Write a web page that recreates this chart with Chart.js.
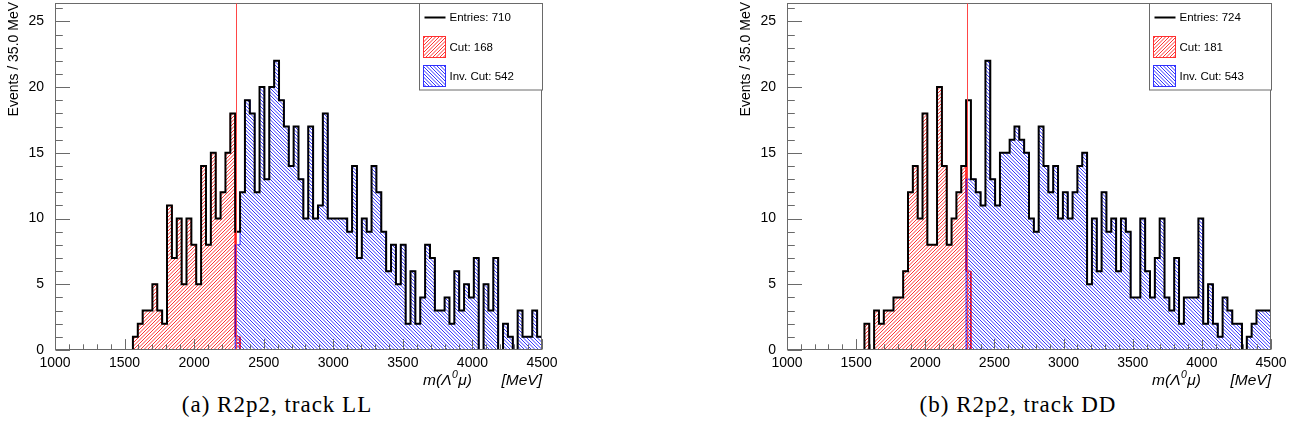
<!DOCTYPE html>
<html>
<head>
<meta charset="utf-8">
<script src="https://cdn.jsdelivr.net/npm/chart.js@4.4.0/dist/chart.umd.min.js"></script>
<style>
  html, body { margin: 0; padding: 0; background: #fff; }
  body { width: 1302px; height: 438px; position: relative; overflow: hidden; }
  canvas { position: absolute; top: 0; }
  #cLL { left: 0; }
  #cDD { left: 730px; }
  .caption {
    position: absolute; top: 392px; line-height: 26px;
    font-family: "Liberation Serif", "Times New Roman", serif; font-size: 23px;
    letter-spacing: 1px; color: #000; white-space: nowrap;
    transform: translateX(-50%);
  }
</style>
</head>
<body>
<canvas id="cLL" width="560" height="390"></canvas>
<canvas id="cDD" width="572" height="390"></canvas>
<div class="caption" style="left:277px">(a) R2p2, track LL</div>
<div class="caption" style="left:1018px">(b) R2p2, track DD</div>

<script>
// Binning of m(Λ0 μ): 100 bins of 35 MeV from 1000 to 4500 MeV
const binStart = 1000;
const binWidth = 35;
const nBins = 100;
const cutValue = 2300;          // MeV, position of the selection cut
const cutFirstBin = 16;         // first filled bin of the "Cut" histograms (1560 MeV)
const invFirstBin = 37;         // first filled bin of the "Inv. Cut" histograms (2295 MeV)

const xTicks = [1000, 1500, 2000, 2500, 3000, 3500, 4000, 4500];
const yTicks = [0, 5, 10, 15, 20, 25];
const yMax = 26.4;

// track LL: events per bin
const llCut = [1, 2, 3, 3, 5, 3, 2, 11, 7, 10, 5, 10, 8, 5, 14, 8, 15, 10, 12, 15, 18, 1];
const llInv = [8, 12, 19, 18, 12, 20, 13, 20, 22, 19, 17, 14, 17, 13, 10, 17, 10, 11, 18, 10,
               10, 10, 10, 9, 14, 7, 10, 9, 14, 12, 9, 6, 8, 5, 8, 2, 6, 2, 4, 8,
               7, 3, 3, 4, 2, 6, 3, 5, 4, 7, 0, 5, 3, 7, 0, 2, 1, 0, 3, 1,
               1, 3, 1];
const llCounts = { entries: 710, cut: 168, inv: 542 };

// track DD: events per bin
const ddCut = [2, 0, 3, 2, 3, 3, 4, 4, 6, 12, 14, 10, 18, 8, 8, 20, 14, 8, 10, 12, 14, 6];
const ddInv = [13, 13, 12, 11, 22, 13, 11, 15, 15, 16, 17, 16, 15, 10, 9, 17, 14, 12, 14, 10,
               12, 10, 12, 14, 15, 5, 10, 6, 12, 9, 10, 6, 10, 9, 4, 4, 10, 6, 4, 7,
               10, 4, 3, 7, 2, 4, 4, 4, 10, 2, 5, 2, 1, 4, 3, 2, 2, 0, 1, 2,
               3, 3, 3];
const ddCounts = { entries: 724, cut: 181, inv: 543 };

// place a partial list of bin contents into the full binning
function fullBins(vals, first) {
  const a = new Array(nBins).fill(0);
  vals.forEach((v, i) => { a[first + i] = v; });
  return a;
}

// histogram outline as a polyline through the bin corners
function stepPoints(counts) {
  const pts = [{ x: binStart, y: 0 }];
  counts.forEach((c, i) => {
    pts.push({ x: binStart + i * binWidth, y: c });
    pts.push({ x: binStart + (i + 1) * binWidth, y: c });
  });
  pts.push({ x: binStart + nBins * binWidth, y: 0 });
  return pts;
}

// ROOT style hatching (3004 "/" and 3005 "\")
function hatch(ctx, color, rising) {
  const s = 7, p = s / 2;
  const tile = document.createElement('canvas');
  tile.width = s; tile.height = s;
  const g = tile.getContext('2d');
  g.strokeStyle = color;
  g.lineWidth = 1;
  g.beginPath();
  for (let k = -3; k <= 3; k++) {
    const o = k * p;
    if (rising) { g.moveTo(o, s); g.lineTo(o + s, 0); }
    else { g.moveTo(o, 0); g.lineTo(o + s, s); }
  }
  g.stroke();
  return ctx.createPattern(tile, 'repeat');
}

const FRAME = '#6a6a6a';
const SANS = '"Liberation Sans", Arial, Helvetica, sans-serif';

// frame, inward ticks, cut line, legend and axis titles
const rootFrame = {
  id: 'rootFrame',
  afterDatasetsDraw(chart, args, opts) {
    const ctx = chart.ctx;
    const a = chart.chartArea;
    const xs = chart.scales.x, ys = chart.scales.y;
    ctx.save();

    // frame
    const L = Math.round(a.left) + 0.5, R = Math.round(a.right) - 0.5;
    const T = Math.round(a.top) + 0.5, B = Math.round(a.bottom) - 0.5;
    ctx.strokeStyle = FRAME;
    ctx.lineWidth = 1;
    ctx.strokeRect(L, T, R - L, B - T);

    // y ticks: major every 5, minor every 1
    ctx.beginPath();
    for (let v = 0; v <= Math.floor(yMax); v++) {
      const y = Math.round(ys.getPixelForValue(v)) + 0.5;
      const len = v % 5 === 0 ? 14.5 : 7.3;
      ctx.moveTo(L, y);
      ctx.lineTo(L + len, y);
    }
    // x ticks: major every 500, minor every 100
    for (let m = binStart; m <= binStart + nBins * binWidth; m += 100) {
      const x = Math.round(xs.getPixelForValue(m)) + 0.5;
      const len = (m - binStart) % 500 === 0 ? 10.4 : 5.2;
      ctx.moveTo(x, B);
      ctx.lineTo(x, B - len);
    }
    ctx.stroke();

    // selection cut
    const xc = Math.round(xs.getPixelForValue(cutValue)) + 0.5;
    ctx.beginPath();
    ctx.strokeStyle = 'rgb(255,70,70)';
    ctx.lineWidth = 1;
    ctx.moveTo(xc, B);
    ctx.lineTo(xc, T);
    ctx.stroke();

    // legend
    const W = opts.legendWidth, H = 86.5;
    const lx = Math.round(a.right - W) + 0.5, ly = T;
    ctx.fillStyle = '#fff';
    ctx.fillRect(lx, ly, W, H);
    ctx.strokeStyle = FRAME;
    ctx.strokeRect(lx, ly, W, H);

    ctx.strokeStyle = '#000';
    ctx.lineWidth = 2;
    ctx.beginPath();
    ctx.moveTo(lx + 5, ly + 14);
    ctx.lineTo(lx + 26, ly + 14);
    ctx.stroke();

    const boxes = [[opts.redFill, '#ff3030', 33], [opts.blueFill, '#3030ff', 62]];
    ctx.lineWidth = 1;
    boxes.forEach(([fill, edge, dy]) => {
      ctx.fillStyle = fill;
      ctx.fillRect(lx + 4, ly + dy, 22, 21);
      ctx.strokeStyle = edge;
      ctx.strokeRect(lx + 4, ly + dy, 22, 21);
    });

    ctx.fillStyle = '#000';
    ctx.font = '11.5px ' + SANS;
    ctx.textAlign = 'left';
    ctx.textBaseline = 'middle';
    ctx.fillText('Entries: ' + opts.counts.entries, lx + 30, ly + 14);
    ctx.fillText('Cut: ' + opts.counts.cut, lx + 30, ly + 44);
    ctx.fillText('Inv. Cut: ' + opts.counts.inv, lx + 30, ly + 73);

    // y title
    ctx.save();
    ctx.translate(a.left - 41, 2);
    ctx.rotate(-Math.PI / 2);
    ctx.font = '14px ' + SANS;
    ctx.textAlign = 'right';
    ctx.textBaseline = 'middle';
    ctx.fillText('Events / 35.0 MeV', 0, 0);
    ctx.restore();

    // x title
    const ty = 381;
    ctx.font = 'italic 15.5px ' + SANS;
    ctx.textAlign = 'right';
    ctx.textBaseline = 'middle';
    ctx.fillText('[MeV]', a.right, ty);
    const p1 = 'm(\u039B', p2 = '0', p3 = '\u03BC)';
    const supFont = 'italic 10.5px ' + SANS;
    const w1 = ctx.measureText(p1).width, w3 = ctx.measureText(p3).width;
    ctx.font = supFont;
    const w2 = ctx.measureText(p2).width;
    const x0 = a.right - 70 - (w1 + w2 + w3 + 1);
    ctx.textAlign = 'left';
    ctx.font = 'italic 15.5px ' + SANS;
    ctx.fillText(p1, x0, ty);
    ctx.font = supFont;
    ctx.fillText(p2, x0 + w1 + 0.5, ty - 6);
    ctx.font = 'italic 15.5px ' + SANS;
    ctx.fillText(p3, x0 + w1 + w2 + 1, ty);

    ctx.restore();
  }
};

function drawPanel(canvasId, cutVals, invVals, counts, yAxisWidth, rightPad, legendWidth) {
  const canvas = document.getElementById(canvasId);
  const ctx = canvas.getContext('2d');
  const cut = fullBins(cutVals, cutFirstBin);
  const inv = fullBins(invVals, invFirstBin);
  const total = cut.map((c, i) => c + inv[i]);
  const redFill = hatch(ctx, 'rgba(255,0,0,0.8)', true);
  const blueFill = hatch(ctx, 'rgba(0,0,255,0.8)', false);

  const line = { pointRadius: 0, tension: 0, borderJoinStyle: 'miter', borderCapStyle: 'butt' };

  return new Chart(canvas, {
    type: 'line',
    data: {
      datasets: [
        Object.assign({ label: 'Entries', data: stepPoints(total), borderColor: '#000',
          borderWidth: 2, fill: false, order: 0 }, line),
        Object.assign({ label: 'Inv. Cut', data: stepPoints(inv), borderColor: 'rgba(0,0,255,0.8)',
          borderWidth: 1, backgroundColor: blueFill, fill: 'origin', order: 1 }, line),
        Object.assign({ label: 'Cut', data: stepPoints(cut), borderColor: 'rgba(255,0,0,0.8)',
          borderWidth: 1, backgroundColor: redFill, fill: 'origin', order: 2 }, line)
      ]
    },
    options: {
      responsive: false,
      animation: false,
      devicePixelRatio: 1,
      events: [],
      layout: { padding: { left: 0, right: rightPad, top: 3, bottom: 0 } },
      plugins: {
        legend: { display: false },
        tooltip: { enabled: false },
        rootFrame: { counts, legendWidth, redFill, blueFill }
      },
      scales: {
        x: {
          type: 'linear',
          min: binStart,
          max: binStart + nBins * binWidth,
          grid: { display: false, drawTicks: false },
          border: { display: false },
          afterBuildTicks: s => { s.ticks = xTicks.map(v => ({ value: v })); },
          afterFit: s => { s.height = 40; s.paddingLeft = 0; s.paddingRight = 0; },
          ticks: {
            autoSkip: false, maxRotation: 0, padding: 5, color: '#000',
            font: { family: SANS, size: 14 },
            callback: v => String(v)
          }
        },
        y: {
          type: 'linear',
          min: 0,
          max: yMax,
          grid: { display: false, drawTicks: false },
          border: { display: false },
          afterBuildTicks: s => { s.ticks = yTicks.map(v => ({ value: v })); },
          afterFit: s => { s.width = yAxisWidth; s.paddingTop = 0; s.paddingBottom = 0; },
          ticks: {
            autoSkip: false, padding: 11, color: '#000',
            font: { family: SANS, size: 14 },
            callback: v => String(v)
          }
        }
      }
    },
    plugins: [rootFrame]
  });
}

drawPanel('cLL', llCut, llInv, llCounts, 55, 18, 123);
drawPanel('cDD', ddCut, ddInv, ddCounts, 57, 31, 122);
</script>
</body>
</html>
